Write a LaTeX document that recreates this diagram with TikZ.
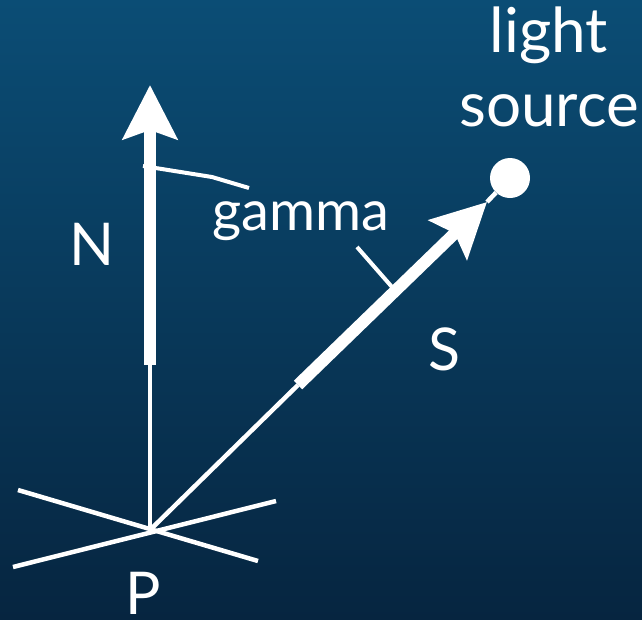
\documentclass[tikz,border=0pt]{standalone}
\usepackage{fontspec}
\setmainfont{Lato}
\usepackage{tikz}
\usetikzlibrary{arrows.meta}
\definecolor{bgtop}{HTML}{0B4D75}
\definecolor{bgbot}{HTML}{062540}
\tikzset{
  >={Stealth[length=54pt,width=54pt,inset=9pt]},
  wire/.style={draw=white, line width=4.5pt},
  shaft/.style={draw=white, line width=12pt},
  angl/.style={draw=white, line width=4pt},
  lbl/.style={text=white, inner sep=0pt, anchor=base, font=\fontsize{59}{70}\selectfont},
  dot/.style={circle, fill=white, inner sep=0pt, minimum size=40pt},
}
\begin{document}
\begin{tikzpicture}[x=1pt,y=-1pt]
  \useasboundingbox (0,0) rectangle (642,619);
  \shade[top color=bgtop,bottom color=bgbot] (0,0) rectangle (642,619);
  \coordinate (P) at (150,530);
  \coordinate (nb) at (150,365);\coordinate (nt) at (150,85);
  \coordinate (sb) at (298,385);\coordinate (st) at (487,202);
  \coordinate (a1) at (18,490);\coordinate (a2) at (258,561);
  \coordinate (b1) at (13,567);\coordinate (b2) at (276,501);
  \coordinate (g1) at (143,166);\coordinate (g2) at (212,177);\coordinate (g3) at (249,188);
  \coordinate (t1) at (357,247);\coordinate (t2) at (392,287);
  \node[dot](light) at (510,178){};
  \node[lbl](N) at (92,265){N};
  \node[lbl](S) at (444,370){S};
  \node[lbl](Pl) at (143,614){P};
  \node[lbl,font=\fontsize{56}{60}\selectfont](gam) at (301,230){gamma};
  \node[lbl,anchor=north,align=center,font=\fontsize{62}{74}\selectfont](src) at (549,7){light\\source};
  \draw[wire](a1)--(a2);\draw[wire](b1)--(b2);
  \draw[wire](P)--(nb);\draw[shaft,->](nb)--(nt);
  \draw[wire](P)--(sb);\draw[shaft,->](sb)--(st);\draw[wire](st)--(light);
  \draw[angl](g1)--(g2)--(g3);\draw[angl](t1)--(t2);
\end{tikzpicture}
\end{document}
